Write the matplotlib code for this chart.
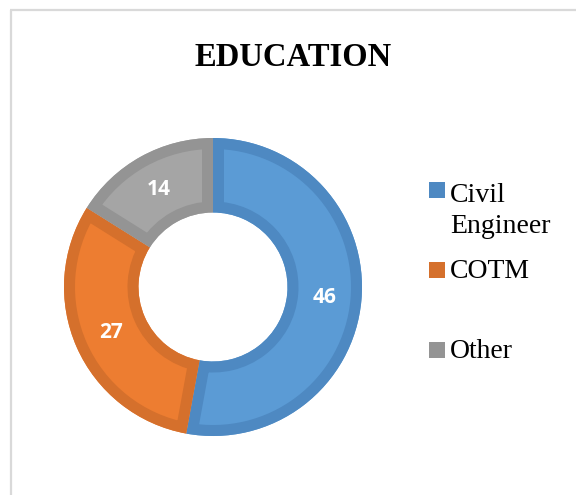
import matplotlib.pyplot as plt
from matplotlib.patches import Rectangle, PathPatch

W, H = 576, 495

labels = ["Civil\nEngineer", "COTM", "Other"]
values = [46, 27, 14]
fills = ["#5b9bd5", "#ed7d31", "#a5a5a5"]
edges = ["#4e89c2", "#d5702c", "#949494"]

# donut geometry in pixels
cx, cy = 213, 287
r_out, r_in = 149, 74.5
border_px = 11

fig = plt.figure(figsize=(W / 100, H / 100), dpi=100)
ax = fig.add_axes([0, 0, 1, 1])

total = sum(values)
wedges, texts, autotexts = ax.pie(
    values,
    colors=fills,
    startangle=90,
    counterclock=False,
    center=(cx, H - cy),
    radius=r_out,
    autopct=lambda p: f"{p * total / 100:.0f}",
    pctdistance=(r_out + r_in) / 2 / r_out,
    wedgeprops=dict(width=r_out - r_in, linewidth=0),
    textprops=dict(color="white", fontsize=15, fontweight="bold", family="Open Sans"),
)
ax.set_xlim(0, W)
ax.set_ylim(0, H)
ax.set_aspect("equal")
ax.axis("off")

# inner border: a double-width outline clipped to the wedge shape
for w, ec in zip(wedges, edges):
    outline = PathPatch(w.get_path(), fill=False, edgecolor=ec,
                        linewidth=2 * border_px * 0.72,
                        transform=ax.transData, zorder=w.get_zorder() + 0.1)
    ax.add_patch(outline)
    outline.set_clip_path(w.get_path(), ax.transData)

# chart area frame (only left and top edges fall inside the image)
ax.plot([11, 11], [H - 10, 0], color="#d9d9d9", lw=1.6, solid_capstyle="butt")
ax.plot([10, W], [H - 10, H - 10], color="#d9d9d9", lw=1.6, solid_capstyle="butt")

ax.text(293, H - 66, "EDUCATION", ha="center", va="baseline",
        fontsize=23.5, fontweight="bold", family="Liberation Serif")

# legend
leg_y = [190, 270, 350]
line_step = 35
for lab, ec, y in zip(labels, edges, leg_y):
    ax.add_patch(Rectangle((429, H - y - 8), 16, 16, color=ec, lw=0))
    extra = lab.count("\n")
    ax.text(450, H - (y + 8 + extra * line_step), lab, ha="left", va="baseline",
            fontsize=20, family="Liberation Serif", linespacing=1.3)

fig.savefig("out.png", dpi=100, facecolor="white")
